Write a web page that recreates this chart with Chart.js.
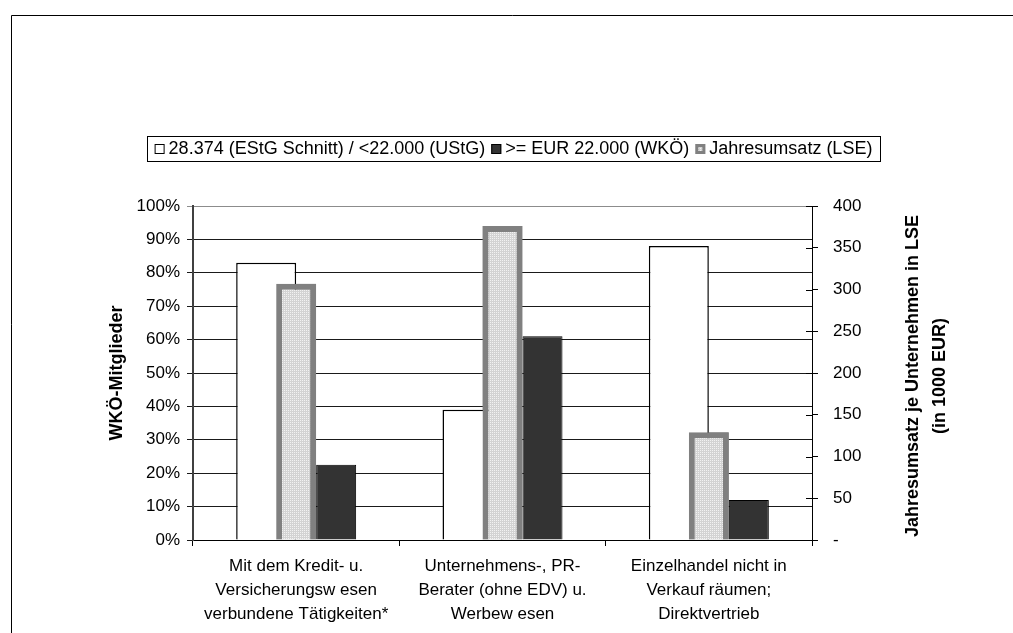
<!DOCTYPE html>
<html>
<head>
<meta charset="utf-8">
<script src="https://cdn.jsdelivr.net/npm/chart.js@4.4.1/dist/chart.umd.min.js"></script>
<style>
  body { margin: 0; background: #fff; }
</style>
</head>
<body>
<canvas id="myChart" width="1013" height="633"></canvas>
<script>
const categories = [
    ['Mit dem Kredit- u.', 'Versicherungsw esen', 'verbundene Tätigkeiten*'],
    ['Unternehmens-, PR-', 'Berater (ohne EDV) u.', 'Werbew esen'],
    ['Einzelhandel nicht in', 'Verkauf räumen;', 'Direktvertrieb']
]
const seriesNames = ['28.374 (EStG Schnitt) / <22.000 (UStG)', '>= EUR 22.000 (WKÖ)', 'Jahresumsatz (LSE)']
const unterGrenze = [83, 39, 88]        // % WKÖ-Mitglieder
const ueberGrenze = [22.5, 61, 12]      // % WKÖ-Mitglieder
const jahresumsatz = [307, 376, 129]    // 1000 EUR
const leftTitle = 'WKÖ-Mitglieder'
const rightTitle = ['Jahresumsatz je Unternehmen in LSE', '(in 1000 EUR)']

const FONT = '"Liberation Sans", Arial, sans-serif'

const makePattern = () => {
    const c = document.createElement('canvas')
    c.width = 2
    c.height = 2
    const x = c.getContext('2d')
    x.fillStyle = '#d3d3d3'
    x.fillRect(0, 0, 2, 2)
    x.fillStyle = '#f2f2f2'
    x.fillRect(0, 0, 1, 1)
    return x.createPattern(c, 'repeat')
}
const dots = makePattern()

// frame, gray bars on top, legend box, right axis title, inner ticks of the right axis
const extras = {
    id: 'extras',
    beforeDraw(chart) {
        const ctx = chart.ctx
        ctx.save()
        ctx.fillStyle = '#fff'
        ctx.fillRect(0, 0, chart.width, chart.height)
        ctx.strokeStyle = '#000'
        ctx.lineWidth = 1
        ctx.beginPath()
        ctx.moveTo(11.5, chart.height)
        ctx.lineTo(11.5, 15.5)
        ctx.lineTo(chart.width, 15.5)
        ctx.stroke()
        ctx.restore()
    },
    afterDatasetsDraw(chart) {
        // the LSE bars overlap the white bars, so paint them again on top
        const ctx = chart.ctx
        ctx.save()
        chart.getDatasetMeta(1).data.forEach(el => el.draw(ctx))
        ctx.restore()
    },
    afterDraw(chart) {
        const ctx = chart.ctx
        ctx.save()

        // legend
        const box = { left: 147, top: 136, right: 880, bottom: 161 }
        ctx.strokeStyle = '#000'
        ctx.lineWidth = 1
        ctx.strokeRect(box.left + 0.5, box.top + 0.5, box.right - box.left, box.bottom - box.top)
        ctx.font = '18px ' + FONT
        ctx.textBaseline = 'middle'
        ctx.textAlign = 'left'
        const items = [0, 2, 1].map(i => chart.data.datasets[i])
        const gap = 6, mark = 10
        let total = 0
        items.forEach(d => { total += mark + 4 + ctx.measureText(d.label).width })
        total += gap * (items.length - 1)
        let x = (box.left + box.right) / 2 - total / 2
        const cy = (box.top + box.bottom) / 2 + 0.5
        items.forEach(d => {
            ctx.fillStyle = d.backgroundColor
            ctx.fillRect(x, cy - mark / 2, mark, mark)
            ctx.strokeStyle = d.legendStroke
            ctx.lineWidth = d.legendLine
            ctx.strokeRect(x + d.legendLine / 2, cy - mark / 2 + d.legendLine / 2, mark - d.legendLine, mark - d.legendLine)
            ctx.fillStyle = '#000'
            ctx.fillText(d.label, x + mark + 4, cy)
            x += mark + 4 + ctx.measureText(d.label).width + gap
        })

        // right axis title, read bottom to top
        const y2 = chart.scales.y2
        const midY = (chart.chartArea.top + chart.chartArea.bottom) / 2 + 3
        ctx.font = 'bold 18px ' + FONT
        ctx.textAlign = 'center'
        ctx.fillStyle = '#000'
        rightTitle.forEach((t, i) => {
            ctx.save()
            ctx.translate(913 + i * 27, midY)
            ctx.rotate(-Math.PI / 2)
            ctx.fillText(t, 0, 0)
            ctx.restore()
        })

        // right axis ticks cross the axis line
        ctx.strokeStyle = '#000'
        ctx.lineWidth = 1
        y2.ticks.forEach(t => {
            const py = Math.round(y2.getPixelForValue(t.value)) + 0.5
            ctx.beginPath()
            ctx.moveTo(y2.left - 6, py)
            ctx.lineTo(y2.left, py)
            ctx.stroke()
        })
        ctx.restore()
    }
}

const data = {
    labels: categories,
    datasets: [
        {
            label: seriesNames[0],
            data: unterGrenze,
            backgroundColor: '#ffffff',
            borderColor: '#000000',
            borderWidth: 1.5,
            yAxisID: 'y',
            stack: 'a',
            categoryPercentage: 0.4362,
            barPercentage: 2,
            legendStroke: '#000',
            legendLine: 1
        },
        {
            label: seriesNames[2],
            data: jahresumsatz,
            backgroundColor: dots,
            borderColor: '#808080',
            borderWidth: 6,
            yAxisID: 'y2',
            stack: 'b',
            categoryPercentage: 0.5816,
            barPercentage: 1,
            legendStroke: '#808080',
            legendLine: 3
        },
        {
            label: seriesNames[1],
            data: ueberGrenze,
            backgroundColor: '#333333',
            borderColor: '#000000',
            borderWidth: 1,
            yAxisID: 'y',
            stack: 'c',
            categoryPercentage: 0.5816,
            barPercentage: 1,
            legendStroke: '#000',
            legendLine: 1
        }
    ]
}

const tickFont = { family: FONT, size: 17 }

const config = {
    type: 'bar',
    data: data,
    options: {
        responsive: false,
        animation: false,
        layout: { padding: { top: 206, left: 0, right: 0, bottom: 0 } },
        plugins: {
            legend: { display: false },
            tooltip: { enabled: false }
        },
        scales: {
            x: {
                type: 'category',
                position: 'bottom',
                afterFit: (s) => { s.height = 93 },
                grid: {
                    offset: true,
                    drawOnChartArea: false,
                    drawTicks: true,
                    tickLength: 6,
                    color: '#000'
                },
                border: { display: true, color: '#000', width: 1 },
                ticks: {
                    color: '#000',
                    font: { family: FONT, size: 17, lineHeight: 1.41 },
                    padding: 8,
                    maxRotation: 0,
                    autoSkip: false
                }
            },
            y: {
                position: 'left',
                min: 0,
                max: 100,
                afterFit: (s) => { s.width = 193 },
                ticks: {
                    stepSize: 10,
                    color: '#000',
                    font: tickFont,
                    padding: 7,
                    callback: (v) => v + '%'
                },
                grid: {
                    color: (c) => c.tick && c.tick.value === 100 ? '#8c8c8c' : '#1a1a1a',
                    lineWidth: 1,
                    drawTicks: true,
                    tickLength: 6
                },
                border: { display: true, color: '#404040', width: 2 },
                title: {
                    display: true,
                    text: leftTitle,
                    color: '#000',
                    font: { family: FONT, size: 18, weight: 'bold' },
                    padding: { top: 106 }
                }
            },
            y2: {
                position: 'right',
                min: 0,
                max: 400,
                afterFit: (s) => { s.width = 201 },
                ticks: {
                    stepSize: 50,
                    color: '#000',
                    font: tickFont,
                    padding: 15,
                    callback: (v) => v === 0 ? '-' : v
                },
                grid: {
                    drawOnChartArea: false,
                    drawTicks: true,
                    tickLength: 6,
                    color: '#000'
                },
                border: { display: true, color: '#000', width: 1 }
            }
        }
    },
    plugins: [extras]
}

const myChart = new Chart(document.getElementById('myChart'), config)
</script>
</body>
</html>
